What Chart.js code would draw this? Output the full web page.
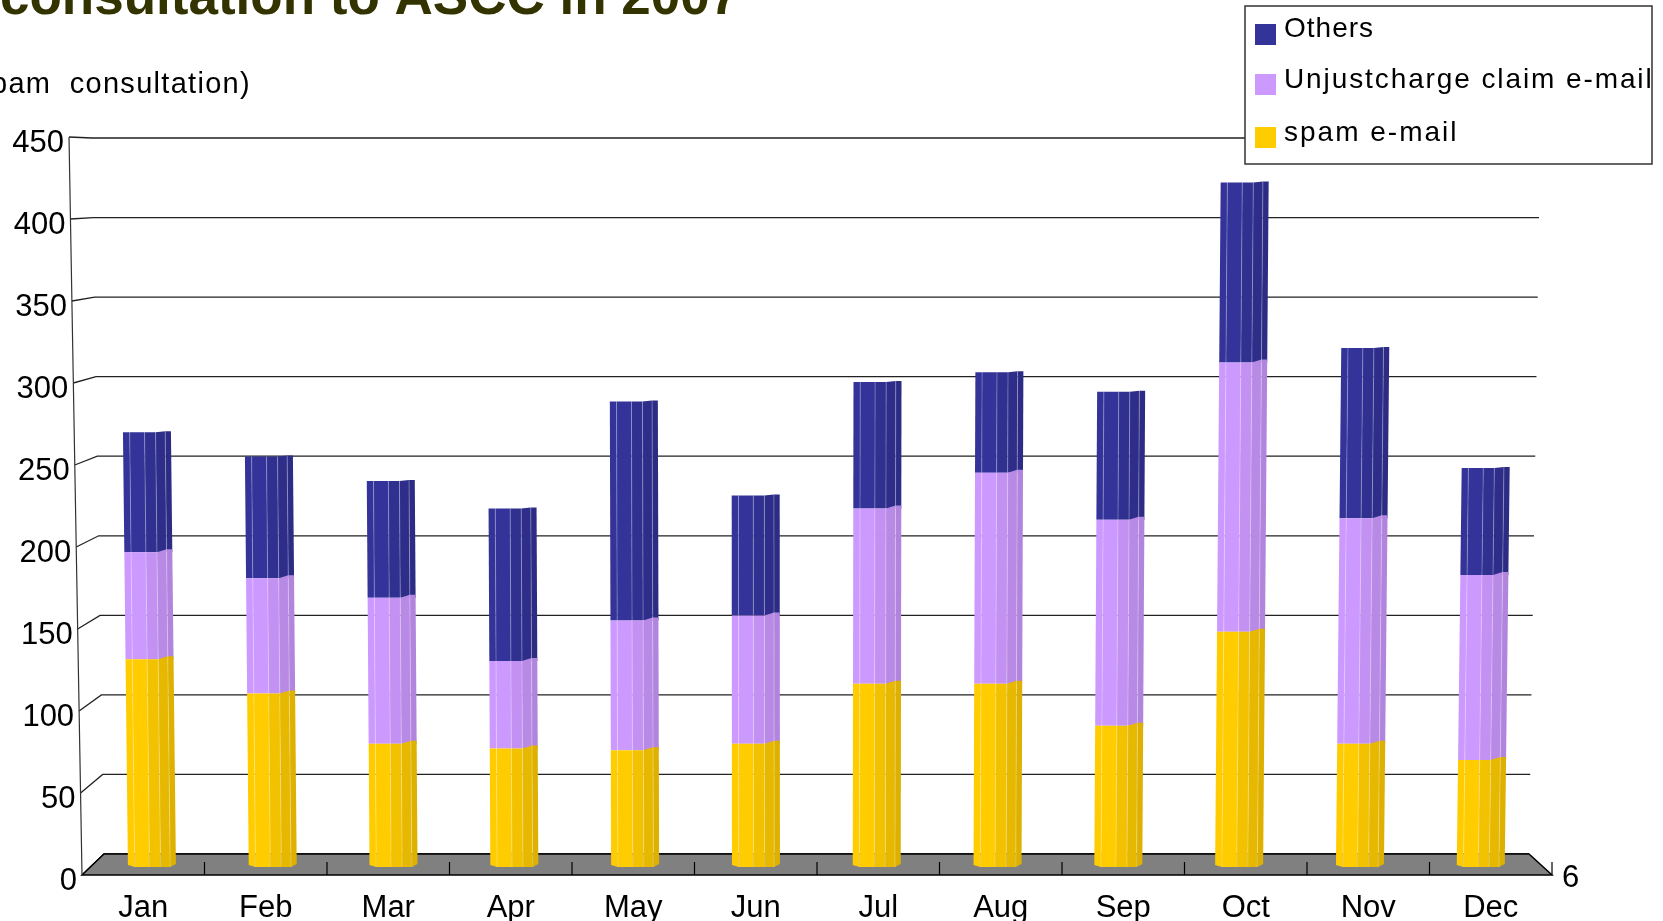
<!DOCTYPE html>
<html>
<head>
<meta charset="utf-8">
<title>consultation to ASCC in 2007</title>
<script src="https://cdn.jsdelivr.net/npm/chart.js@4/dist/chart.umd.min.js"></script>
<style>
  html, body { margin: 0; padding: 0; background: #fff; overflow: hidden; }
  canvas { display: block; }
</style>
</head>
<body>
<canvas id="spamChart" width="1663" height="921"></canvas>
<script>
// chart values
const months = ["Jan", "Feb", "Mar", "Apr", "May", "Jun", "Jul", "Aug", "Sep", "Oct", "Nov", "Dec"];
const spamMail = [128, 107, 76, 73, 72, 76, 113, 113, 87, 145, 76, 66];
const unjustMail = [66, 71, 90, 54, 80, 79, 108, 130, 127, 166, 139, 114];
const others = [74, 75, 72, 94, 135, 74, 78, 62, 79, 111, 105, 66];
const yTicks = [0, 50, 100, 150, 200, 250, 300, 350, 400, 450];

const titleText = "consultation to ASCC in 2007";
const unitText = "(spam consultation)";
const depthLabel = "6";

// facets of the bar, left to right: [start, end, shade]
const facets = [[0, 0.14, 1], [0.14, 0.45, 1], [0.45, 0.68, 0.95], [0.68, 0.88, 0.9], [0.88, 1, 0.87]];

function shade(hex, f) {
  const n = parseInt(hex.slice(1), 16);
  const r = Math.round((n >> 16) * f);
  const g = Math.round(((n >> 8) & 255) * f);
  const b = Math.round((n & 255) * f);
  return `rgb(${r},${g},${b})`;
}

// the right side of a segment top sits a little higher
function rimLift(f, height) {
  if (f <= 0.68) return 0;
  if (f >= 0.88) return height;
  return ((f - 0.68) / 0.2) * height;
}

let barBaseY = 867;

// bars of the 3D chart: faceted, leaning a little towards the middle of the picture
Chart.BarElement.prototype.draw = function (ctx) {
  const w = this.width;
  const lean = (this.x - 790) * 0.000018;
  const color = this.options.backgroundColor;
  const isBottom = Math.abs(this.base - barBaseY) < 1;
  // the top segment has an almost flat cap
  const lift = color === "#333399" ? 1 : 3;
  const xAt = (f, yy) => this.x + (f - 0.5) * w + lean * (barBaseY - yy);

  ctx.save();
  facets.forEach(([a, b, s]) => {
    const topA = this.y - rimLift(a, lift);
    const topB = this.y - rimLift(b, lift);
    const botA = this.base - (isBottom ? (a === 0 ? 2 : 0) : 0);
    const botB = this.base - (isBottom ? (b === 1 ? 3 : 0) : 0);
    ctx.fillStyle = shade(color, s);
    ctx.beginPath();
    ctx.moveTo(xAt(a, topA), topA);
    ctx.lineTo(xAt(b, topB), topB);
    ctx.lineTo(xAt(b, botB), botB);
    ctx.lineTo(xAt(a, botA), botA);
    ctx.closePath();
    ctx.fill();
  });
  // pale seams between facets
  ctx.strokeStyle = "rgba(255,255,255,0.28)";
  ctx.lineWidth = 1;
  facets.slice(1).forEach(([a]) => {
    const top = this.y - rimLift(a, lift);
    ctx.beginPath();
    ctx.moveTo(xAt(a, top), top);
    ctx.lineTo(xAt(a, this.base), this.base);
    ctx.stroke();
  });
  ctx.restore();
};

// floor, back wall grid, y labels, titles and legend box
const scenePlugin = {
  id: "scene",
  beforeDatasetsDraw(chart) {
    const ctx = chart.ctx;
    const y = chart.scales.y;
    const yBack = chart.scales.yBack;
    barBaseY = chart.scales.yBar.getPixelForValue(0);

    const frontX = (p) => 82 - (875 - p) * 0.0176;
    const backX = (p) => 104 - (853 - p) * 0.0168;
    const rightX = (p) => 1529 + (853 - p) * 0.0157;

    // grid on the back wall
    y.ticks.forEach((t) => {
      const py = y.getPixelForValue(t.value);
      const pb = yBack.getPixelForValue(t.value);
      ctx.strokeStyle = t.value === 0 ? "#000" : "#222";
      ctx.lineWidth = 1.3;
      ctx.beginPath();
      ctx.moveTo(frontX(py), py);
      ctx.lineTo(backX(pb), pb);
      ctx.lineTo(rightX(pb), pb);
      ctx.stroke();
    });

    // floor
    const b0 = yBack.getPixelForValue(0);
    const f0 = y.getPixelForValue(0);
    ctx.fillStyle = "#808080";
    ctx.strokeStyle = "#000";
    ctx.lineWidth = 1.5;
    ctx.beginPath();
    ctx.moveTo(chart.chartArea.left, f0);
    ctx.lineTo(backX(b0), b0);
    ctx.lineTo(rightX(b0), b0);
    ctx.lineTo(chart.chartArea.right, f0);
    ctx.closePath();
    ctx.fill();
    ctx.stroke();

    // tick marks between the months
    const cell = chart.chartArea.width / months.length;
    ctx.lineWidth = 1.2;
    for (let i = 1; i <= months.length; i++) {
      const px = chart.chartArea.left + cell * i;
      ctx.beginPath();
      ctx.moveTo(px, f0);
      ctx.lineTo(px, f0 - 13);
      ctx.stroke();
    }

    // front upright of the wall
    ctx.strokeStyle = "#333";
    ctx.beginPath();
    ctx.moveTo(frontX(y.getPixelForValue(450)), y.getPixelForValue(450));
    ctx.lineTo(frontX(f0), f0);
    ctx.stroke();

    // y labels follow the slanted upright
    ctx.fillStyle = "#000";
    ctx.font = "31px 'Liberation Sans'";
    ctx.textAlign = "right";
    ctx.textBaseline = "middle";
    y.ticks.forEach((t) => {
      const py = y.getPixelForValue(t.value);
      ctx.fillText(t.label, frontX(py) - 5, py + 6);
    });

    ctx.textAlign = "left";
    ctx.fillText(depthLabel, 1562, f0 + 3);
  },
  afterDraw(chart) {
    const ctx = chart.ctx;
    ctx.save();

    ctx.fillStyle = "#333300";
    ctx.font = "bold 53px 'Liberation Sans'";
    ctx.textAlign = "left";
    ctx.textBaseline = "alphabetic";
    ctx.fillText(titleText, 0, 14);

    ctx.fillStyle = "#000";
    ctx.font = "29px 'Liberation Sans'";
    ctx.letterSpacing = "1.3px";
    ctx.wordSpacing = "9px";
    ctx.textAlign = "right";
    ctx.fillText(unitText, 251, 93);
    ctx.wordSpacing = "0px";
    ctx.textAlign = "left";

    // legend, newest series on top
    ctx.fillStyle = "#fff";
    ctx.fillRect(1245, 6, 407, 158);
    ctx.strokeStyle = "#333";
    ctx.lineWidth = 1.5;
    ctx.strokeRect(1245, 6, 407, 158);
    const rows = [
      [2, 24, 37, "1px"],
      [1, 74, 88, "1.9px"],
      [0, 127, 141, "2px"],
    ];
    ctx.font = "28px 'Liberation Sans'";
    rows.forEach(([idx, boxY, textY, spacing]) => {
      const ds = chart.data.datasets[idx];
      ctx.fillStyle = ds.backgroundColor;
      ctx.fillRect(1255, boxY, 21, 21);
      ctx.fillStyle = "#000";
      ctx.letterSpacing = spacing;
      ctx.fillText(ds.label, 1284, textY);
    });
    ctx.letterSpacing = "0px";
    ctx.restore();
  },
};

function toPoints(values) {
  return values.map((v, i) => ({ x: i, y: v }));
}

new Chart(document.getElementById("spamChart"), {
  type: "bar",
  plugins: [scenePlugin],
  data: {
    labels: months,
    datasets: [
      { label: "spam e-mail", data: toPoints(spamMail), backgroundColor: "#FFCC00", xAxisID: "xBar", yAxisID: "yBar", barThickness: 48 },
      { label: "Unjustcharge claim e-mail", data: toPoints(unjustMail), backgroundColor: "#CC99FF", xAxisID: "xBar", yAxisID: "yBar", barThickness: 48 },
      { label: "Others", data: toPoints(others), backgroundColor: "#333399", xAxisID: "xBar", yAxisID: "yBar", barThickness: 48 },
    ],
  },
  options: {
    responsive: false,
    animation: false,
    layout: { padding: { top: 137, left: 82, right: 111, bottom: 0 } },
    plugins: { legend: { display: false }, tooltip: { enabled: false } },
    scales: {
      // month labels along the front edge of the floor
      x: {
        type: "category",
        offset: true,
        grid: { display: false },
        border: { display: false },
        ticks: { color: "#000", font: { family: "'Liberation Sans'", size: 31 }, padding: 7, maxRotation: 0 },
        afterFit(scale) {
          scale.height = 46;
        },
      },
      // bars stand slightly further back than the front edge
      xBar: { type: "linear", display: false, stacked: true, offset: false, min: -0.579, max: 11.59 },
      y: {
        display: false,
        min: 0,
        max: 450,
        afterBuildTicks(scale) {
          scale.ticks = yTicks.map((v) => ({ value: v, label: String(v) }));
        },
      },
      yBar: { display: false, stacked: true, min: -4.93, max: 450 },
      yBack: { display: false, min: -13.2, max: 450.63 },
    },
  },
});
</script>
</body>
</html>
